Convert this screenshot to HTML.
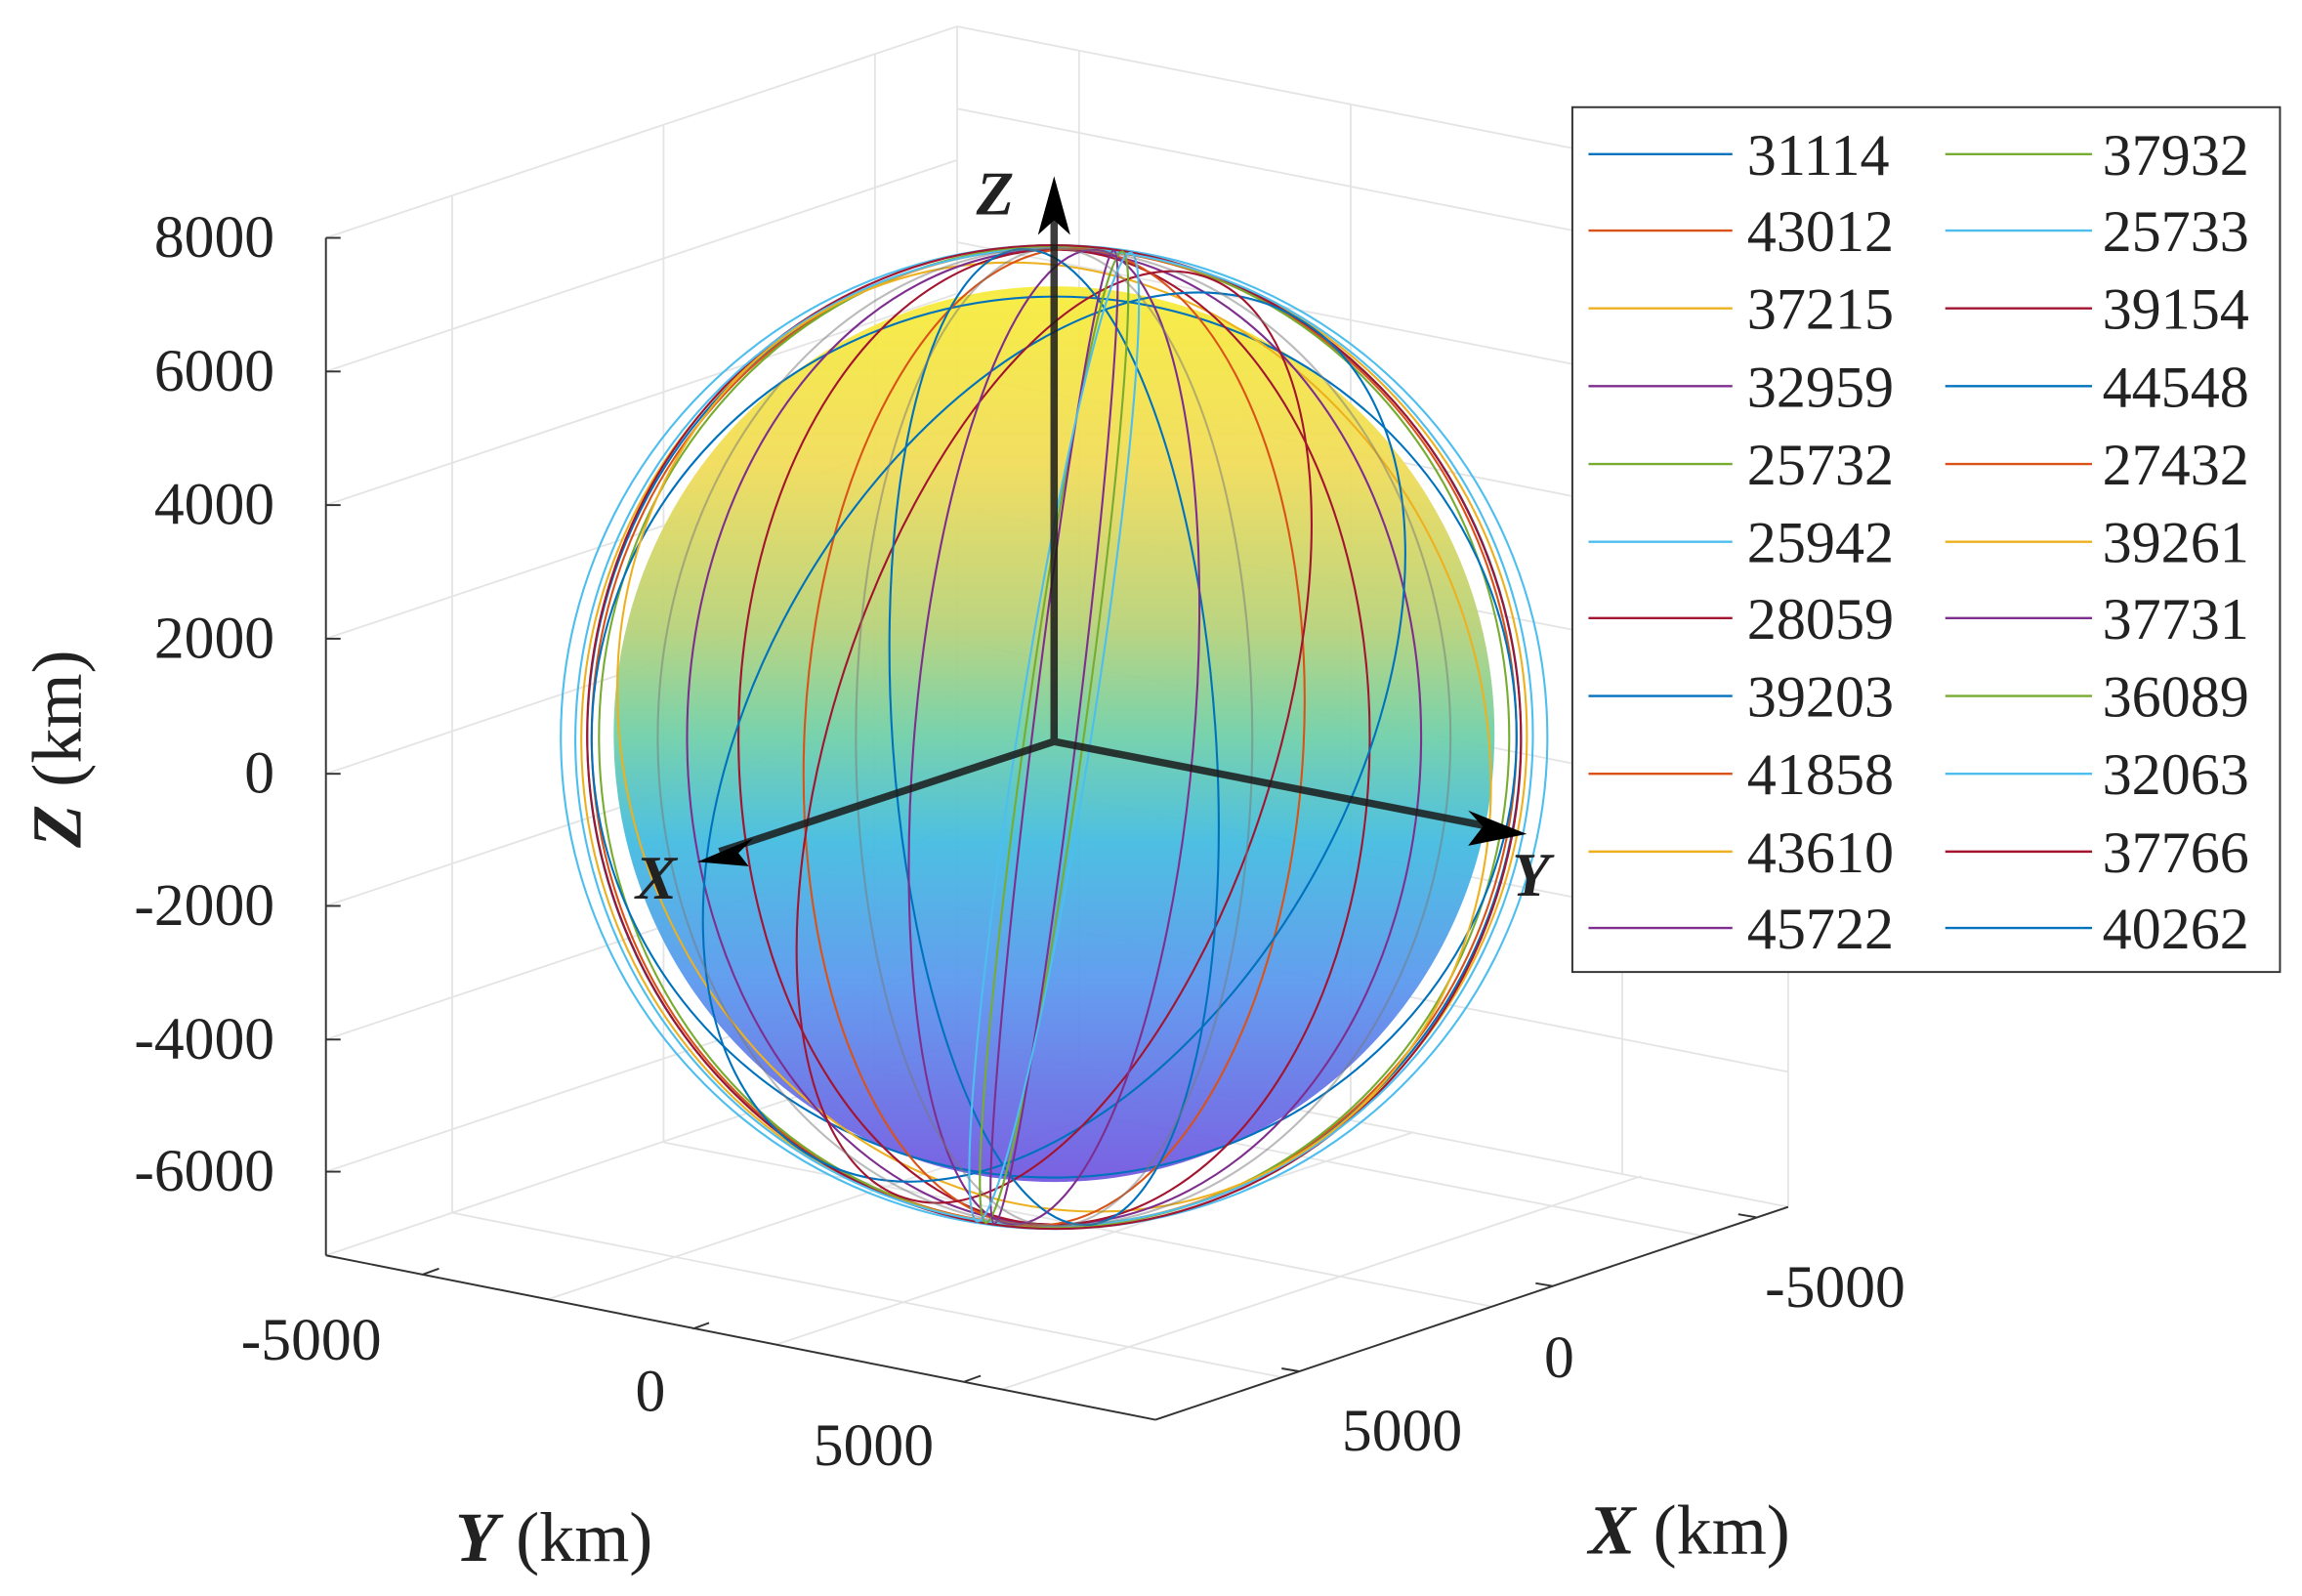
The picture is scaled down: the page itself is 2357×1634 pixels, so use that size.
<!DOCTYPE html>
<html><head><meta charset="utf-8"><style>
html,body{margin:0;padding:0;background:#fff;}
svg{display:block;}
text{font-family:"Liberation Serif",serif;fill:#222;}
</style></head><body>
<svg width="2357" height="1634" viewBox="0 0 1568 1087" xmlns="http://www.w3.org/2000/svg">
<defs>
<linearGradient id="sg" x1="0" y1="0" x2="0" y2="1">
<stop offset="0" stop-color="#f7ec3c"/>
<stop offset="0.2" stop-color="#f0dc5a"/>
<stop offset="0.38" stop-color="#b8d27a"/>
<stop offset="0.5" stop-color="#72d0a8"/>
<stop offset="0.62" stop-color="#44bce0"/>
<stop offset="0.78" stop-color="#5c98ee"/>
<stop offset="1" stop-color="#7458e0"/>
</linearGradient>
</defs>
<g stroke="#e4e4e4" stroke-width="1.2" fill="none">
<polyline points="222,162 652,18 1218,130"/>
<line x1="652" y1="18" x2="652" y2="710"/>
<line x1="652" y1="710" x2="222" y2="855"/>
<line x1="652" y1="710" x2="1218" y2="822"/>
<line x1="1218" y1="130" x2="1218" y2="822"/>
<line x1="308" y1="133" x2="308" y2="826"/>
<line x1="452" y1="85" x2="452" y2="778"/>
<line x1="596" y1="37" x2="596" y2="730"/>
<line x1="735" y1="34" x2="735" y2="726"/>
<line x1="920" y1="71" x2="920" y2="763"/>
<line x1="1105" y1="108" x2="1105" y2="800"/>
<line x1="652" y1="74" x2="1218" y2="186"/>
<line x1="652" y1="165" x2="1218" y2="277"/>
<line x1="652" y1="255" x2="1218" y2="367"/>
<line x1="652" y1="346" x2="1218" y2="458"/>
<line x1="652" y1="437" x2="1218" y2="549"/>
<line x1="652" y1="528" x2="1218" y2="640"/>
<line x1="652" y1="618" x2="1218" y2="730"/>
<line x1="222" y1="253" x2="652" y2="109"/>
<line x1="222" y1="344" x2="652" y2="200"/>
<line x1="222" y1="435" x2="652" y2="291"/>
<line x1="222" y1="527" x2="652" y2="382"/>
<line x1="222" y1="617" x2="652" y2="473"/>
<line x1="222" y1="708" x2="652" y2="564"/>
<line x1="222" y1="798" x2="652" y2="654"/>
<line x1="308" y1="826" x2="873" y2="938"/>
<line x1="452" y1="778" x2="1017" y2="890"/>
<line x1="596" y1="730" x2="1161" y2="842"/>
<line x1="373" y1="885" x2="808" y2="740"/>
<line x1="528" y1="916" x2="963" y2="771"/>
<line x1="683" y1="946" x2="1118" y2="801"/>
</g>
<g stroke="#333" stroke-width="1.3" fill="none">
<line x1="222" y1="162" x2="222" y2="855"/>
<line x1="222" y1="855" x2="787" y2="967"/>
<line x1="787" y1="967" x2="1218" y2="822"/>
<line x1="222" y1="162" x2="232" y2="162"/><line x1="222" y1="253" x2="232" y2="253"/>
<line x1="222" y1="344" x2="232" y2="344"/><line x1="222" y1="435" x2="232" y2="435"/>
<line x1="222" y1="527" x2="232" y2="527"/><line x1="222" y1="617" x2="232" y2="617"/>
<line x1="222" y1="708" x2="232" y2="708"/><line x1="222" y1="798" x2="232" y2="798"/>
<line x1="288" y1="868" x2="299" y2="864"/><line x1="472" y1="905" x2="483" y2="901"/><line x1="657" y1="941" x2="668" y2="937"/>
<line x1="1196" y1="829" x2="1184" y2="827"/><line x1="1058" y1="876" x2="1046" y2="874"/><line x1="885" y1="934" x2="873" y2="932"/>
</g>
<g font-size="41" text-anchor="end">
<text x="187" y="175">8000</text><text x="187" y="266">6000</text><text x="187" y="357">4000</text>
<text x="187" y="448">2000</text><text x="187" y="540">0</text><text x="187" y="630">-2000</text>
<text x="187" y="721">-4000</text><text x="187" y="811">-6000</text>
</g>
<g font-size="41" text-anchor="middle">
<text x="212" y="926">-5000</text><text x="443" y="961">0</text><text x="595" y="998">5000</text>
<text x="1250" y="890">-5000</text><text x="1062" y="938">0</text><text x="955" y="988">5000</text>
</g>
<g font-size="48">
<text x="310" y="1063"><tspan font-weight="bold" font-style="italic">Y</tspan> (km)</text>
<text x="1082" y="1058"><tspan font-weight="bold" font-style="italic">X</tspan> (km)</text>
<text transform="translate(55,510) rotate(-90)" text-anchor="middle"><tspan font-weight="bold" font-style="italic">Z</tspan> (km)</text>
</g>
<ellipse cx="718" cy="500" rx="300" ry="305" fill="url(#sg)" opacity="0.95"/>
<g fill="none" stroke-width="1.4">
<ellipse cx="718" cy="502" rx="336" ry="335" stroke="#4DBEEE"/>
<ellipse cx="718" cy="502" rx="318" ry="333" stroke="#0072BD"/>
<ellipse cx="718" cy="502" rx="315" ry="333" stroke="#D95319"/>
<ellipse cx="718" cy="502" rx="310" ry="334" stroke="#77AC30"/>
<ellipse cx="718" cy="502" rx="322" ry="333" stroke="#EDB120" transform="rotate(3 718 502)"/>
<ellipse cx="718" cy="502" rx="318" ry="335" stroke="#A2142F" transform="rotate(-3 718 502)"/>
<ellipse cx="718" cy="502" rx="326" ry="333" stroke="#4DBEEE" transform="rotate(6 718 502)"/>
<ellipse cx="718" cy="502" rx="315" ry="300" stroke="#0072BD" transform="rotate(-2 718 502)"/>
<ellipse cx="718" cy="502" rx="290" ry="330" stroke="#EDB120" transform="rotate(-25 718 502)"/>
<ellipse cx="718" cy="502" rx="250" ry="332" stroke="#7E2F8E"/>
<ellipse cx="718" cy="502" rx="215" ry="332" stroke="#A2142F"/>
<ellipse cx="718" cy="502" rx="170" ry="333" stroke="#D95319" transform="rotate(3 718 502)"/>
<ellipse cx="718" cy="502" rx="200" ry="330" stroke="#0072BD" transform="rotate(30 718 502)"/>
<ellipse cx="718" cy="502" rx="150" ry="330" stroke="#A2142F" transform="rotate(18 718 502)"/>
<ellipse cx="718" cy="502" rx="110" ry="333" stroke="#0072BD" transform="rotate(-4 718 502)"/>
<ellipse cx="718" cy="502" rx="95" ry="333" stroke="#7E2F8E" transform="rotate(5 718 502)"/>
<ellipse cx="718" cy="502" rx="20" ry="334" stroke="#77AC30" transform="rotate(8 718 502)"/>
<ellipse cx="718" cy="502" rx="15" ry="334" stroke="#7E2F8E" transform="rotate(7 718 502)"/>
<ellipse cx="718" cy="502" rx="25" ry="334" stroke="#4DBEEE" transform="rotate(9 718 502)"/>
<ellipse cx="718" cy="502" rx="270" ry="333" stroke="#777" opacity="0.5"/>
<ellipse cx="718" cy="502" rx="135" ry="333" stroke="#777" opacity="0.5"/>
</g>
<g stroke="#1a1a1a" stroke-width="5" fill="none" opacity="0.85">
<line x1="718" y1="505" x2="718" y2="135"/>
<line x1="718" y1="505" x2="490" y2="580"/>
<line x1="718" y1="505" x2="1025" y2="565"/>
</g>
<polygon points="718,120 707,160 718,150 729,160" fill="#000"/>
<polygon points="475,587 513,571 503,581 510,590" fill="#000"/>
<polygon points="1040,568 1000,552 1010,563 1000,576" fill="#000"/>
<g font-size="42" font-weight="bold" font-style="italic">
<text x="665" y="146">Z</text><text x="433" y="612">X</text><text x="1030" y="610">Y</text>
</g>
<rect x="1071" y="73" width="482" height="589" fill="#fff" stroke="#333" stroke-width="1.3"/>
<g stroke-width="1.6">
<line x1="1082" y1="105" x2="1180" y2="105" stroke="#0072BD"/><line x1="1325" y1="105" x2="1425" y2="105" stroke="#77AC30"/>
<line x1="1082" y1="157" x2="1180" y2="157" stroke="#D95319"/><line x1="1325" y1="157" x2="1425" y2="157" stroke="#4DBEEE"/>
<line x1="1082" y1="210" x2="1180" y2="210" stroke="#EDB120"/><line x1="1325" y1="210" x2="1425" y2="210" stroke="#A2142F"/>
<line x1="1082" y1="263" x2="1180" y2="263" stroke="#7E2F8E"/><line x1="1325" y1="263" x2="1425" y2="263" stroke="#0072BD"/>
<line x1="1082" y1="316" x2="1180" y2="316" stroke="#77AC30"/><line x1="1325" y1="316" x2="1425" y2="316" stroke="#D95319"/>
<line x1="1082" y1="369" x2="1180" y2="369" stroke="#4DBEEE"/><line x1="1325" y1="369" x2="1425" y2="369" stroke="#EDB120"/>
<line x1="1082" y1="421" x2="1180" y2="421" stroke="#A2142F"/><line x1="1325" y1="421" x2="1425" y2="421" stroke="#7E2F8E"/>
<line x1="1082" y1="474" x2="1180" y2="474" stroke="#0072BD"/><line x1="1325" y1="474" x2="1425" y2="474" stroke="#77AC30"/>
<line x1="1082" y1="527" x2="1180" y2="527" stroke="#D95319"/><line x1="1325" y1="527" x2="1425" y2="527" stroke="#4DBEEE"/>
<line x1="1082" y1="580" x2="1180" y2="580" stroke="#EDB120"/><line x1="1325" y1="580" x2="1425" y2="580" stroke="#A2142F"/>
<line x1="1082" y1="632" x2="1180" y2="632" stroke="#7E2F8E"/><line x1="1325" y1="632" x2="1425" y2="632" stroke="#0072BD"/>
</g>
<g font-size="40">
<text x="1190" y="119">31114</text><text x="1432" y="119">37932</text>
<text x="1190" y="171">43012</text><text x="1432" y="171">25733</text>
<text x="1190" y="224">37215</text><text x="1432" y="224">39154</text>
<text x="1190" y="277">32959</text><text x="1432" y="277">44548</text>
<text x="1190" y="330">25732</text><text x="1432" y="330">27432</text>
<text x="1190" y="383">25942</text><text x="1432" y="383">39261</text>
<text x="1190" y="435">28059</text><text x="1432" y="435">37731</text>
<text x="1190" y="488">39203</text><text x="1432" y="488">36089</text>
<text x="1190" y="541">41858</text><text x="1432" y="541">32063</text>
<text x="1190" y="594">43610</text><text x="1432" y="594">37766</text>
<text x="1190" y="646">45722</text><text x="1432" y="646">40262</text>
</g>
</svg>
</body></html>
